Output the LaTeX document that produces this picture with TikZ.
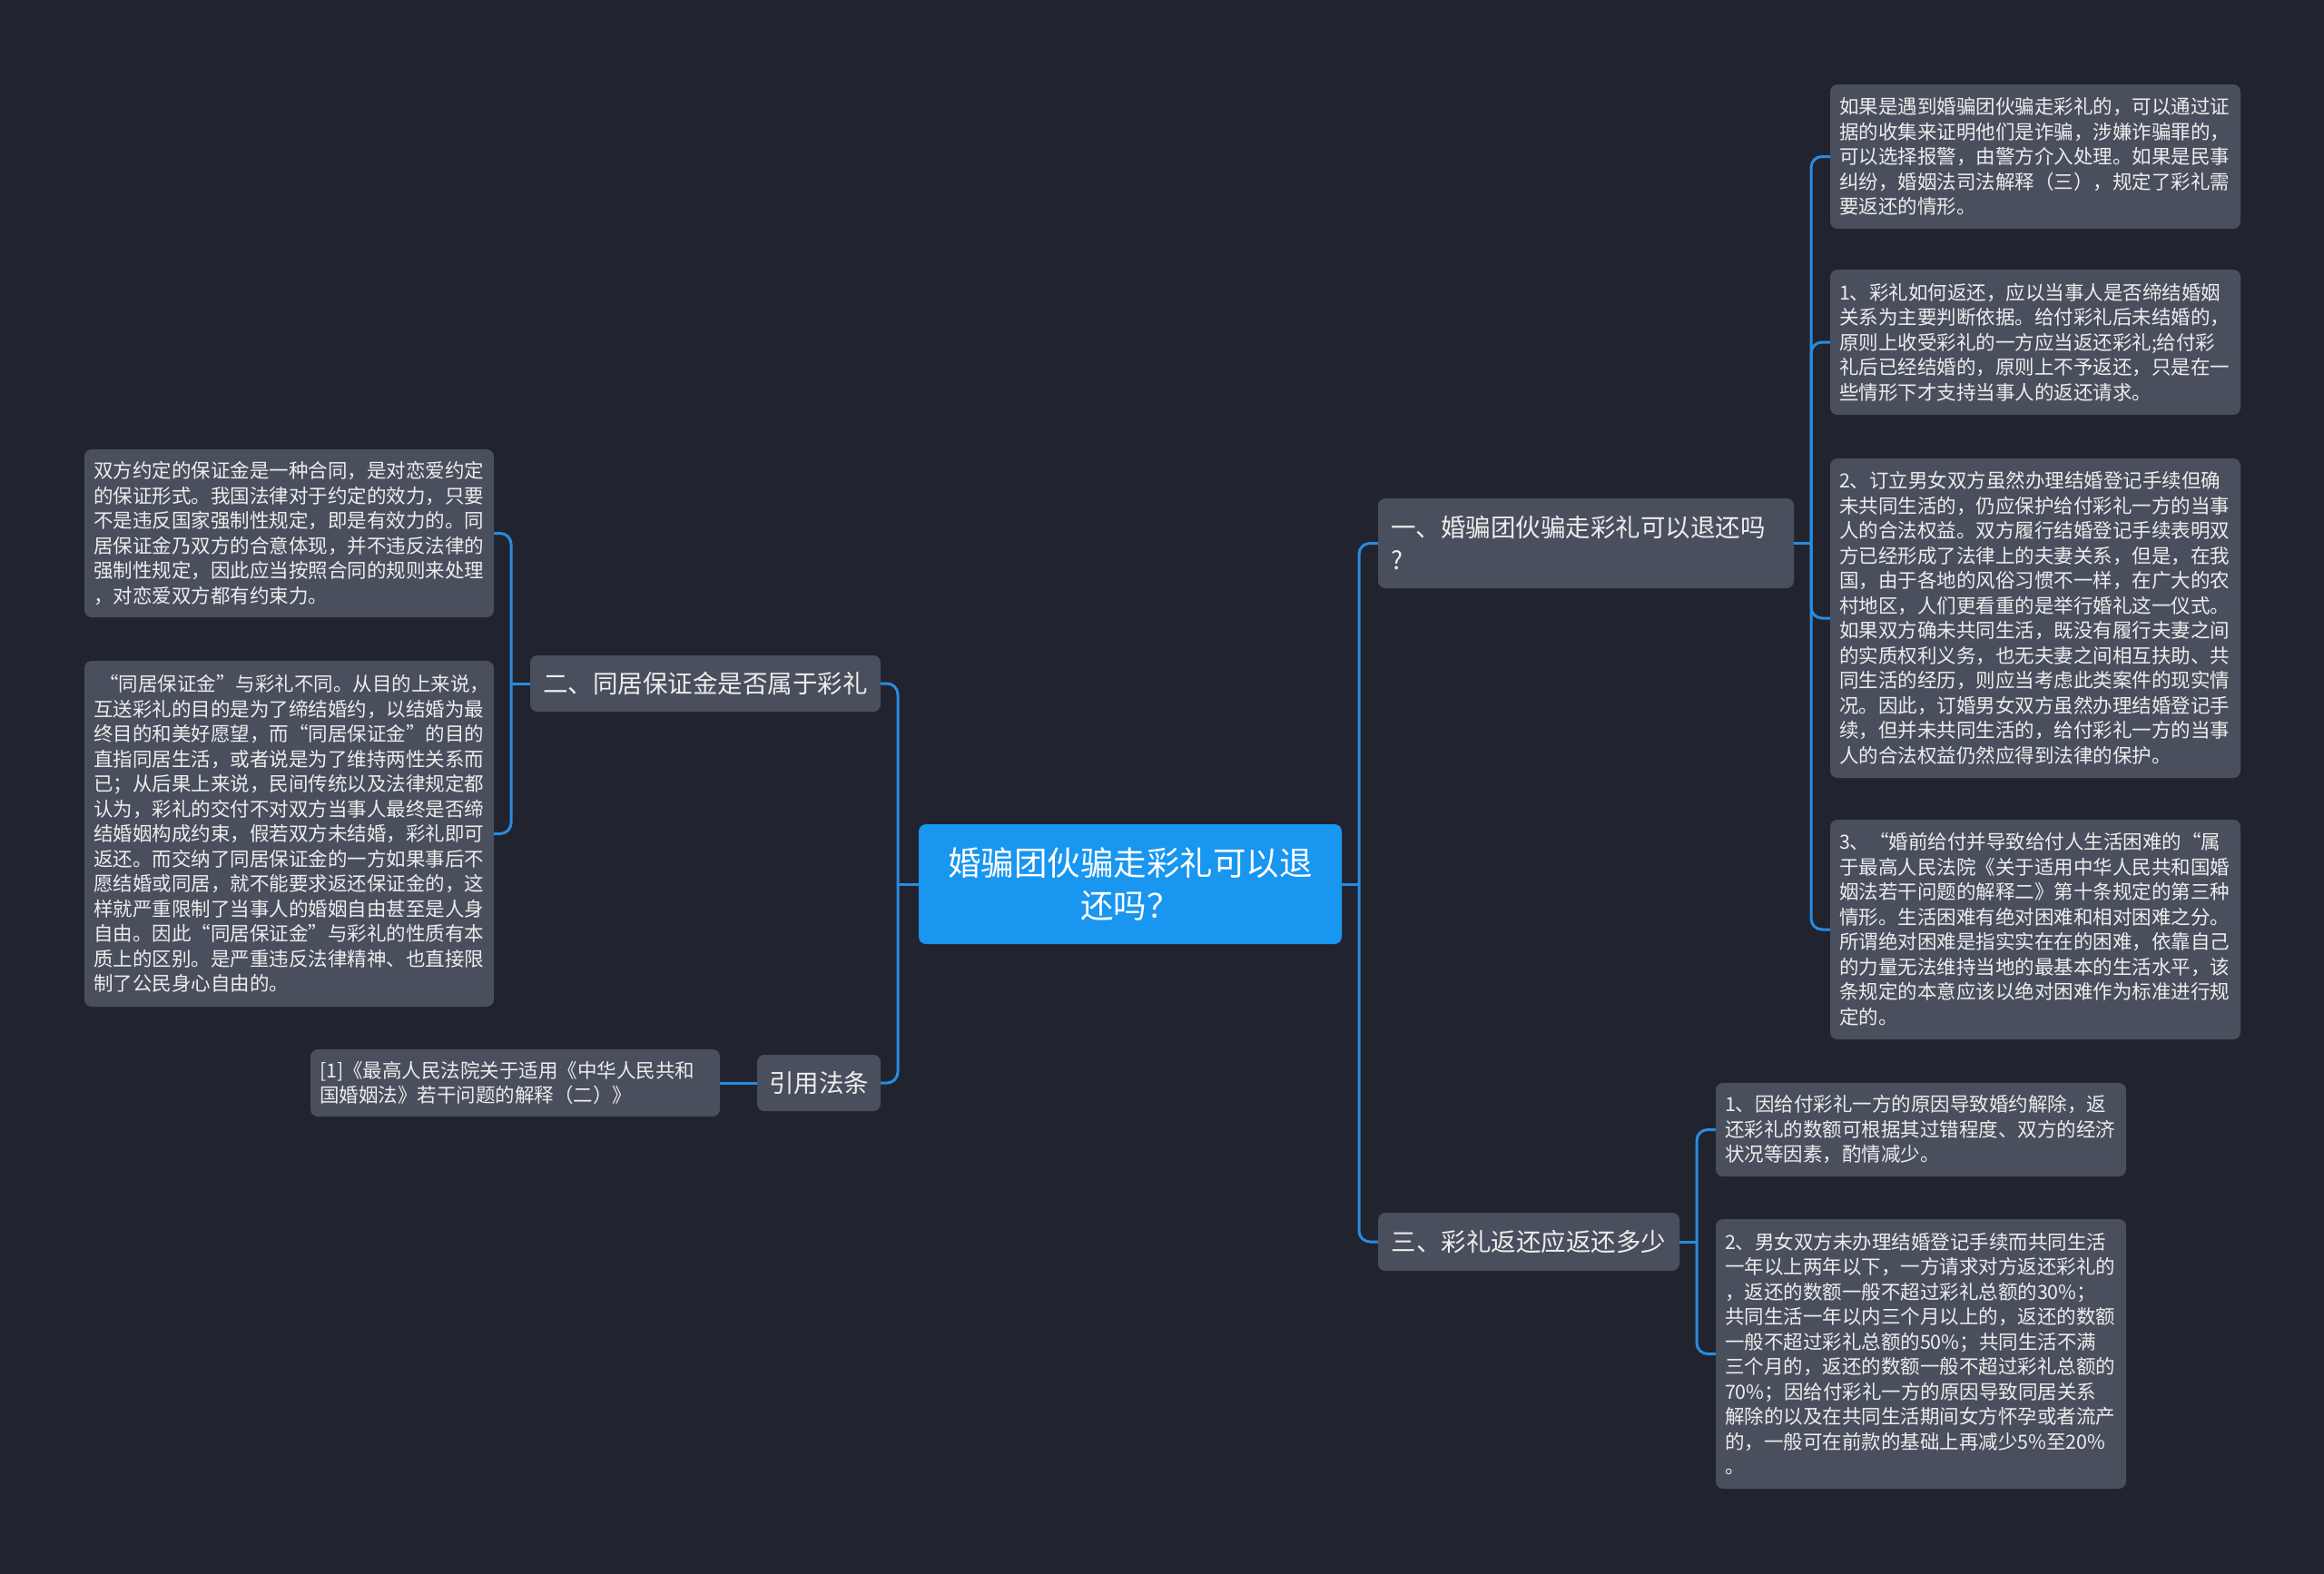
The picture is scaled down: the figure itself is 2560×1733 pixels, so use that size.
\documentclass[tikz,border=0pt]{standalone}
\usepackage{fontspec}
\setmainfont{Noto Sans CJK SC}
\newfontfamily\cjk{Noto Sans CJK SC}
\definecolor{bgC}{HTML}{21242F}
\definecolor{nodeC}{HTML}{4A4F5D}
\definecolor{rootC}{HTML}{1896F0}
\definecolor{lineC}{HTML}{288CE1}
\definecolor{txtC}{HTML}{EDEDED}
\tikzset{
  box/.style={rectangle, rounded corners=8pt, fill=nodeC, text=txtC, inner sep=0pt},
  leaf/.style={box, align=left, font=\cjk\fontsize{21.5}{27.5}\selectfont},
  mid/.style={box, align=center, font=\cjk\fontsize{27.5}{36}\selectfont},
  rootbox/.style={box, fill=rootC, text=white, align=center, font=\cjk\fontsize{36.5}{47}\selectfont},
  conn/.style={draw=lineC, line width=3pt, rounded corners=12pt}
}
\begin{document}
\begin{tikzpicture}[x=1pt,y=-1pt]
\useasboundingbox (0,0) rectangle (2560,1733);
\fill[bgC] (-4,-4) rectangle (2564,1737);

% root
\node[rootbox, minimum width=466, minimum height=132] (root) at (1245,974) {婚骗团伙骗走彩礼可以退\\还吗？};

% mid level
\node[mid, align=left, text width=430, minimum width=458, minimum height=99] (m1) at (1747,598.5) {一、婚骗团伙骗走彩礼可以退还吗\\?};
\node[mid, minimum width=332, minimum height=64] (m2) at (1684,1368) {三、彩礼返还应返还多少};
\node[mid, minimum width=386, minimum height=62] (m3) at (777,753) {二、同居保证金是否属于彩礼};
\node[mid, minimum width=136, minimum height=62] (m4) at (902,1193) {引用法条};

% leaves right top
\node[leaf, text width=432, minimum width=452, minimum height=159] (a1) at (2242,172.5) {如果是遇到婚骗团伙骗走彩礼的，可以通过证\\据的收集来证明他们是诈骗，涉嫌诈骗罪的，\\可以选择报警，由警方介入处理。如果是民事\\纠纷，婚姻法司法解释（三），规定了彩礼需\\要返还的情形。};
\node[leaf, text width=432, minimum width=452, minimum height=160] (a2) at (2242,377) {1、彩礼如何返还，应以当事人是否缔结婚姻\\关系为主要判断依据。给付彩礼后未结婚的，\\原则上收受彩礼的一方应当返还彩礼;给付彩\\礼后已经结婚的，原则上不予返还，只是在一\\些情形下才支持当事人的返还请求。};
\node[leaf, text width=432, minimum width=452, minimum height=352] (a3) at (2242,681) {2、订立男女双方虽然办理结婚登记手续但确\\未共同生活的，仍应保护给付彩礼一方的当事\\人的合法权益。双方履行结婚登记手续表明双\\方已经形成了法律上的夫妻关系，但是，在我\\国，由于各地的风俗习惯不一样，在广大的农\\村地区，人们更看重的是举行婚礼这一仪式。\\如果双方确未共同生活，既没有履行夫妻之间\\的实质权利义务，也无夫妻之间相互扶助、共\\同生活的经历，则应当考虑此类案件的现实情\\况。因此，订婚男女双方虽然办理结婚登记手\\续，但并未共同生活的，给付彩礼一方的当事\\人的合法权益仍然应得到法律的保护。};
\node[leaf, text width=432, minimum width=452, minimum height=242] (a4) at (2242,1024) {3、“婚前给付并导致给付人生活困难的“属\\于最高人民法院《关于适用中华人民共和国婚\\姻法若干问题的解释二》第十条规定的第三种\\情形。生活困难有绝对困难和相对困难之分。\\所谓绝对困难是指实实在在的困难，依靠自己\\的力量无法维持当地的最基本的生活水平，该\\条规定的本意应该以绝对困难作为标准进行规\\定的。};

% leaves right bottom
\node[leaf, text width=432, minimum width=452, minimum height=103] (b1) at (2116,1244.5) {1、因给付彩礼一方的原因导致婚约解除，返\\还彩礼的数额可根据其过错程度、双方的经济\\状况等因素，酌情减少。};
\node[leaf, text width=432, minimum width=452, minimum height=297] (b2) at (2116,1491.5) {2、男女双方未办理结婚登记手续而共同生活\\一年以上两年以下，一方请求对方返还彩礼的\\，返还的数额一般不超过彩礼总额的30\%；\\共同生活一年以内三个月以上的，返还的数额\\一般不超过彩礼总额的50\%；共同生活不满\\三个月的，返还的数额一般不超过彩礼总额的\\70\%；因给付彩礼一方的原因导致同居关系\\解除的以及在共同生活期间女方怀孕或者流产\\的，一般可在前款的基础上再减少5\%至20\%\\。};

% leaves left
\node[leaf, text width=431, minimum width=451, minimum height=185] (c1) at (318.5,587.5) {双方约定的保证金是一种合同，是对恋爱约定\\的保证形式。我国法律对于约定的效力，只要\\不是违反国家强制性规定，即是有效力的。同\\居保证金乃双方的合意体现，并不违反法律的\\强制性规定，因此应当按照合同的规则来处理\\，对恋爱双方都有约束力。};
\node[leaf, text width=431, minimum width=451, minimum height=381] (c2) at (318.5,918.5) {\hspace*{6pt}“同居保证金”与彩礼不同。从目的上来说，\\互送彩礼的目的是为了缔结婚约，以结婚为最\\终目的和美好愿望，而“同居保证金”的目的\\直指同居生活，或者说是为了维持两性关系而\\已；从后果上来说，民间传统以及法律规定都\\认为，彩礼的交付不对双方当事人最终是否缔\\结婚姻构成约束，假若双方未结婚，彩礼即可\\返还。而交纳了同居保证金的一方如果事后不\\愿结婚或同居，就不能要求返还保证金的，这\\样就严重限制了当事人的婚姻自由甚至是人身\\自由。因此“同居保证金”与彩礼的性质有本\\质上的区别。是严重违反法律精神、也直接限\\制了公民身心自由的。};
\node[leaf, text width=431, minimum width=451, minimum height=74] (d) at (567.5,1193) {[1]《最高人民法院关于适用《中华人民共和\\国婚姻法》若干问题的解释（二）》};

% bus coordinates
\coordinate (busR) at (1497,974);
\coordinate (busL) at (989,974);
\coordinate (busA) at (1995,598.5);
\coordinate (busB) at (1869,1368);
\coordinate (busC) at (563,753);

% connectors
\draw[conn] (root.east) -- (busR);
\draw[conn] (busR) |- (m1.west);
\draw[conn] (busR) |- (m2.west);
\draw[conn] (root.west) -- (busL);
\draw[conn] (busL) |- (m3.east);
\draw[conn] (busL) |- (m4.east);
\draw[conn] (m1.east) -- (busA);
\draw[conn] (busA) |- (a1.west);
\draw[conn] (busA) |- (a2.west);
\draw[conn] (busA) |- (a3.west);
\draw[conn] (busA) |- (a4.west);
\draw[conn] (m2.east) -- (busB);
\draw[conn] (busB) |- (b1.west);
\draw[conn] (busB) |- (b2.west);
\draw[conn] (m3.west) -- (busC);
\draw[conn] (busC) |- (c1.east);
\draw[conn] (busC) |- (c2.east);
\draw[conn] (m4.west) -- (d.east);
\end{tikzpicture}
\end{document}
